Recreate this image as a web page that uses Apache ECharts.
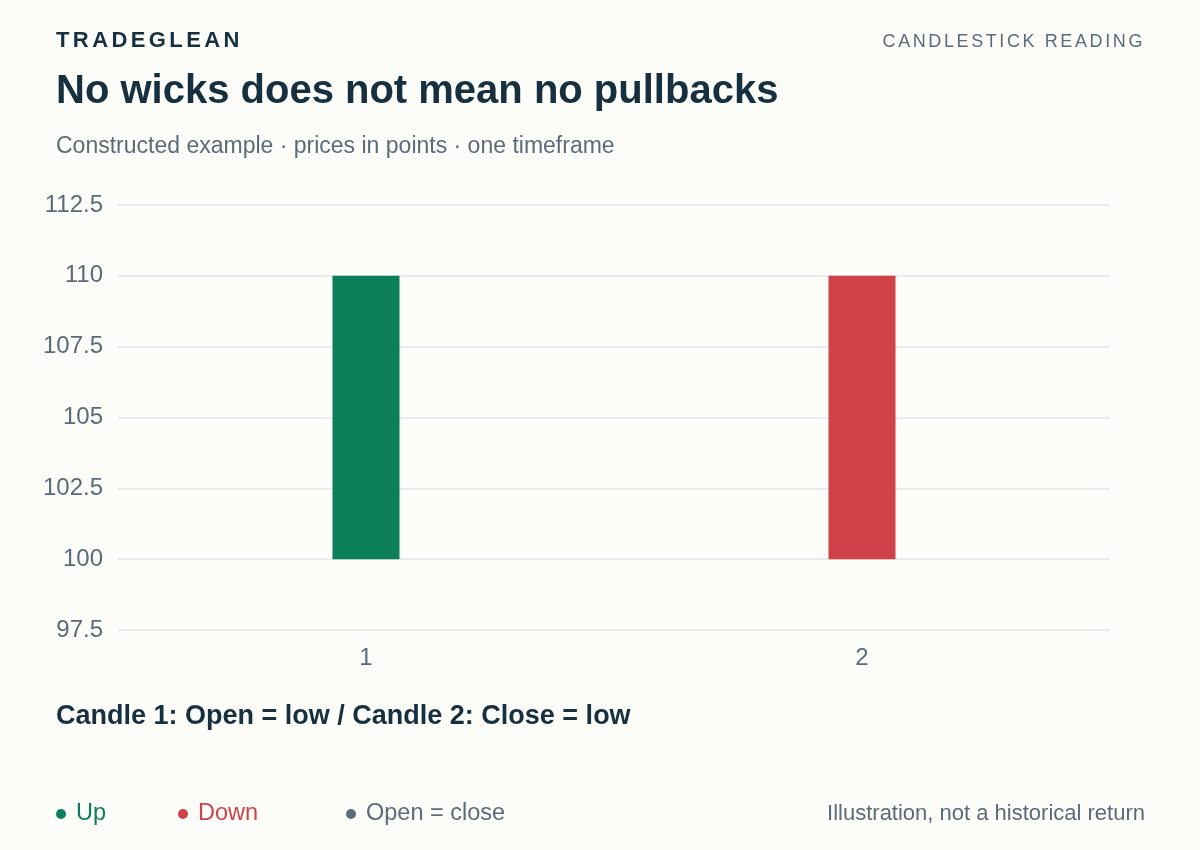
<!DOCTYPE html>
<html>
<head>
<meta charset="utf-8">
<script src="https://cdn.jsdelivr.net/npm/echarts@6/dist/echarts.min.js"></script>
<style>
  html, body { margin: 0; padding: 0; background: #fcfcf8; }
  #wrap { position: relative; width: 1200px; height: 850px; }
  #chart { position: absolute; left: 0; top: 0; width: 1200px; height: 850px; }
  .brand { position: absolute; left: 56px; top: 27px; white-space: nowrap; font-family: "Liberation Sans", Arial, sans-serif; font-weight: bold; font-size: 22px; letter-spacing: 3.4px; color: #17303f; line-height: 26px; }
  .kicker { position: absolute; right: 55px; top: 30px; white-space: nowrap; font-family: "Liberation Sans", Arial, sans-serif; font-size: 18px; letter-spacing: 2.6px; color: #5b6b7a; line-height: 22px; }
</style>
</head>
<body>
<div id="wrap">
  <div id="chart"></div>
  <div class="brand">TRADEGLEAN</div>
  <div class="kicker">CANDLESTICK READING</div>
</div>
<script>
const categories = ['1', '2'];
// [open, close, low, high]
const candles = [
  [100, 110, 100, 110],
  [110, 100, 100, 110]
];
const yMin = 97.5;
const yMax = 112.5;
const yStep = 2.5;

const legendItems = [
  { name: 'Up', color: '#0a7f5a' },
  { name: 'Down', color: '#cf424a' },
  { name: 'Open = close', color: '#5b6b7a' }
];

const font = '"Liberation Sans", Arial, sans-serif';
const legendX = [56, 178, 346];

const graphics = [
  { type: 'text', x: 56, y: 92, style: { text: 'No wicks does not mean no pullbacks', font: 'bold 40px ' + font, fill: '#17303f', verticalAlign: 'middle' } },
  { type: 'text', x: 56, y: 147, style: { text: 'Constructed example · prices in points · one timeframe', font: '23px ' + font, fill: '#5b6b7a', verticalAlign: 'middle' } },
  { type: 'text', x: 56, y: 717, style: { text: 'Candle 1: Open = low / Candle 2: Close = low', font: 'bold 27px ' + font, fill: '#17303f', verticalAlign: 'middle' } },
  { type: 'text', x: 1145, y: 814, style: { text: 'Illustration, not a historical return', font: '22px ' + font, fill: '#5b6b7a', align: 'right', verticalAlign: 'middle' } }
];
legendItems.forEach(function (it, i) {
  graphics.push({ type: 'circle', shape: { cx: legendX[i] + 5, cy: 814, r: 5 }, style: { fill: it.color } });
  graphics.push({ type: 'text', x: legendX[i] + 20, y: 814, style: { text: it.name, font: '23.5px ' + font, fill: it.color, verticalAlign: 'middle' } });
});

const chart = echarts.init(document.getElementById('chart'), null, { renderer: 'canvas' });
chart.setOption({
  backgroundColor: '#fcfcf8',
  animation: false,
  grid: { left: 118, right: 90, top: 205, bottom: 220, containLabel: false },
  xAxis: {
    type: 'category',
    data: categories,
    boundaryGap: true,
    axisLine: { show: false },
    axisTick: { show: false },
    axisLabel: { color: '#5b6b7a', fontSize: 24, fontFamily: font, margin: 16 },
    splitLine: { show: false }
  },
  yAxis: {
    type: 'value',
    min: yMin,
    max: yMax,
    interval: yStep,
    axisLine: { show: false },
    axisTick: { show: false },
    axisLabel: { color: '#5b6b7a', fontSize: 24, fontFamily: font, margin: 15 },
    splitLine: { lineStyle: { color: '#e2e6ec', width: 1.5 } }
  },
  series: [{
    type: 'candlestick',
    data: candles,
    barWidth: 68,
    itemStyle: {
      color: '#0a7f5a',
      color0: '#cf424a',
      borderColor: '#0a7f5a',
      borderColor0: '#cf424a',
      borderWidth: 0
    }
  }],
  graphic: graphics
});
</script>
</body>
</html>
